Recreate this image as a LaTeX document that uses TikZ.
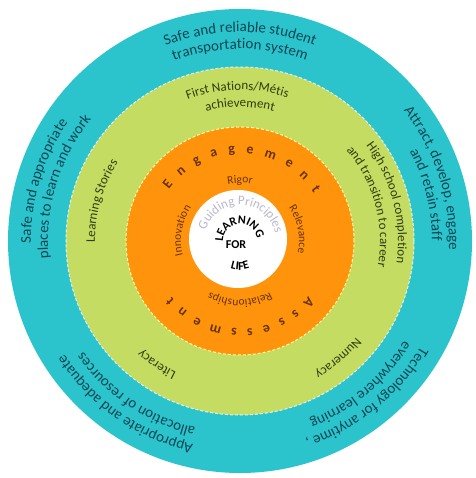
\documentclass[tikz,border=0pt]{standalone}
\usepackage{fontspec}
\setmainfont{Carlito}
\usetikzlibrary{decorations.text}

\definecolor{ringteal}{RGB}{44,196,204}
\definecolor{ringgreen}{RGB}{196,220,98}
\definecolor{ringorange}{RGB}{255,148,12}
\definecolor{tealink}{RGB}{10,70,84}
\definecolor{greenink}{RGB}{46,60,14}
\definecolor{orangeink}{RGB}{104,50,0}
\definecolor{guideink}{RGB}{186,184,204}

\newcommand{\tealfont}{\fontsize{15}{15}\selectfont\color{tealink}}
\newcommand{\greenfont}{\fontsize{13}{13}\selectfont\color{greenink}}
\newcommand{\orangefont}{\fontsize{11.5}{11.5}\selectfont\color{orangeink}}
\newcommand{\bigorangefont}{\fontsize{14}{14}\selectfont\bfseries\color{orangeink}}
\newcommand{\lifefont}{\fontsize{12}{12}\selectfont\bfseries\color{black}}

% text on an arc: font, radius, start angle, end angle, text
\newcommand{\ringtext}[5]{%
  \path[decorate,decoration={text along path,text align=center,text={|#1|#5}}]
    (#3:#2) arc[start angle=#3,end angle=#4,radius=#2];}

\begin{document}
\begin{tikzpicture}[x=1pt,y=1pt,
  ringline/.style={dash pattern=on 3pt off 2pt,line width=1pt}]
  \useasboundingbox[fill=white] (-240,-237) rectangle (235,241);

  % Rings
  \fill[ringteal] (0,0) circle (232);
  \fill[ringgreen] (0,0) circle (174);
  \draw[ringline,white!85!ringteal] (0,0) circle (174);
  \fill[ringorange] (0,0) circle (114);
  \draw[ringline,yellow!35!white] (0,0) circle (114);
  \fill[white] (-2,2) circle (49);

  % Outer ring
  \ringtext{\tealfont}{209}{150}{30}{Safe and reliable student}
  \ringtext{\tealfont}{192}{150}{30}{transportation system}
  \ringtext{\tealfont}{209}{62}{-26}{Attract, develop, engage}
  \ringtext{\tealfont}{192}{58}{-30}{and retain staff}
  \ringtext{\tealfont}{209}{207}{119}{Safe and appropriate}
  \ringtext{\tealfont}{192}{207}{119}{places to learn and work}
  \ringtext{\tealfont}{209}{279}{191}{Appropriate and adequate}
  \ringtext{\tealfont}{192}{280}{192}{allocation of resources}
  \ringtext{\tealfont}{209}{353}{265}{Technology for anytime ,}
  \ringtext{\tealfont}{192}{354}{266}{everywhere learning}

  % Green ring
  \ringtext{\greenfont}{151}{150}{32}{First Nations/Métis}
  \ringtext{\greenfont}{134}{150}{30}{achievement}
  \ringtext{\greenfont}{145}{212}{116}{Learning Stories}
  \ringtext{\greenfont}{158}{62}{-33}{High school completion}
  \ringtext{\greenfont}{140}{62}{-32}{and transition to career}
  \ringtext{\greenfont}{146}{262}{210}{Literacy}
  \ringtext{\greenfont}{151}{336}{284}{Numeracy}

  % Orange ring
  \path[decorate,decoration={text along path,text align={fit to path},
    text={|\bigorangefont|Engagement}}] (144:88) arc[start angle=144,end angle=33,radius=88];
  \path[decorate,decoration={text along path,text align={fit to path},
    text={|\bigorangefont|Assessment}}] (321:88) arc[start angle=321,end angle=219,radius=88];
  \ringtext{\orangefont}{58}{120}{60}{Rigor}
  \ringtext{\orangefont}{59}{50}{-28}{Relevance}
  \ringtext{\orangefont}{59}{215}{125}{Innovation}
  \ringtext{\orangefont}{59}{320}{220}{Relationships}

  % Centre
  \ringtext{\fontsize{13}{13}\selectfont\color{guideink}}{36}{185}{-10}{Guiding Principles}
  \ringtext{\lifefont}{17}{215}{-25}{LEARNING}
  \node[font=\lifefont] (forlbl) at (-4,-4) {FOR};
  \ringtext{\lifefont}{29}{225}{315}{LIFE}
\end{tikzpicture}
\end{document}
